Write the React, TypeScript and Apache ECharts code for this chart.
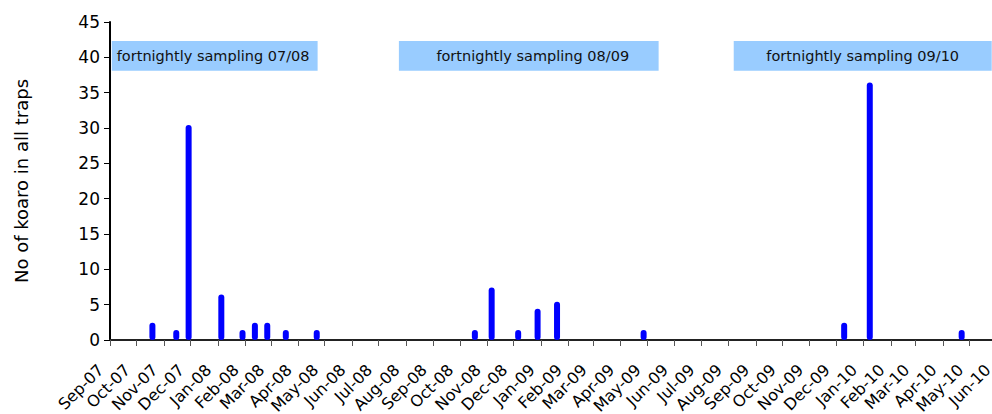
import React, { useEffect, useRef } from 'react';
import * as echarts from 'echarts';

const monthLabels = [
  'Sep-07', 'Oct-07', 'Nov-07', 'Dec-07', 'Jan-08', 'Feb-08', 'Mar-08', 'Apr-08', 'May-08',
  'Jun-08', 'Jul-08', 'Aug-08', 'Sep-08', 'Oct-08', 'Nov-08', 'Dec-08', 'Jan-09', 'Feb-09',
  'Mar-09', 'Apr-09', 'May-09', 'Jun-09', 'Jul-09', 'Aug-09', 'Sep-09', 'Oct-09', 'Nov-09',
  'Dec-09', 'Jan-10', 'Feb-10', 'Mar-10', 'Apr-10', 'May-10', 'Jun-10',
];

const sampleDates = [
  '2007-10-19', '2007-11-15', '2007-11-29', '2008-01-05', '2008-01-29', '2008-02-12',
  '2008-02-26', '2008-03-18', '2008-04-22', '2008-10-18', '2008-11-06', '2008-12-06',
  '2008-12-28', '2009-01-19', '2009-04-27', '2009-12-10', '2010-01-08', '2010-04-22',
];
const koaroCounts = [2, 1, 30, 6, 1, 2, 2, 1, 1, 1, 7, 1, 4, 5, 1, 2, 36, 1];

const periodLabels = ['fortnightly sampling 07/08', 'fortnightly sampling 08/09', 'fortnightly sampling 09/10'];
const periodStarts = ['2007-09-03', '2008-07-24', '2009-08-07'];
const periodEnds = ['2008-04-23', '2009-05-14', '2010-05-26'];
const periodLow = 38.1;
const periodHigh = 42.3;

const yTitle = 'No of koaro in all traps';

const MONTHS = ['Jan', 'Feb', 'Mar', 'Apr', 'May', 'Jun', 'Jul', 'Aug', 'Sep', 'Oct', 'Nov', 'Dec'];
const labelToTs = (l: string) => {
  const [m, y] = l.split('-');
  return Date.UTC(2000 + Number(y), MONTHS.indexOf(m), 1);
};
const dateToTs = (d: string) => {
  const [y, m, dd] = d.split('-').map(Number);
  return Date.UTC(y, m - 1, dd);
};

const FONT = 'DejaVu Sans';

export default function App() {
  const ref = useRef<HTMLDivElement>(null);
  useEffect(() => {
    if (!ref.current) return;
    const chart = echarts.init(ref.current, null, { renderer: 'svg' });
    const tickValues = monthLabels.map(labelToTs);
    const tsToLabel = new Map<number, string>();
    monthLabels.forEach((l, i) => tsToLabel.set(tickValues[i], l));

    chart.setOption({
      animation: false,
      backgroundColor: '#ffffff',
      grid: { left: 110, top: 22, right: -5, bottom: 74, containLabel: false, outerBoundsMode: 'none' },
      xAxis: {
        type: 'value',
        min: tickValues[0],
        max: tickValues[tickValues.length - 1],
        splitLine: { show: false },
        axisLine: { show: true, onZero: false, lineStyle: { color: '#222', width: 2 } },
        axisTick: { show: true, length: 6, customValues: tickValues, lineStyle: { color: '#555', width: 1 } },
        axisLabel: {
          show: true,
          customValues: tickValues,
          rotate: 45,
          margin: 18,
          padding: [0, 13, 0, 0],
          fontFamily: FONT,
          fontSize: 16,
          color: '#000',
          formatter: (v: number) => tsToLabel.get(v) ?? '',
        },
      },
      yAxis: {
        type: 'value',
        min: 0,
        max: 45,
        interval: 5,
        splitLine: { show: false },
        axisLine: { show: true, lineStyle: { color: '#000', width: 2 } },
        axisTick: { show: true, length: 6, lineStyle: { color: '#000', width: 1 } },
        axisLabel: { fontFamily: FONT, fontSize: 17, color: '#000', margin: 10 },
        name: yTitle,
        nameLocation: 'middle',
        nameGap: 80,
        nameTextStyle: { fontFamily: FONT, fontSize: 18, color: '#000' },
      },
      series: [
        {
          type: 'custom',
          renderItem: (params: any, api: any) => {
            const top = api.coord([api.value(0), api.value(1)]);
            const base = api.coord([api.value(0), 0]);
            return {
              type: 'line',
              shape: { x1: top[0], y1: base[1] - 3, x2: top[0], y2: top[1] },
              style: { stroke: '#0000ff', lineWidth: 6, lineCap: 'round' },
            };
          },
          encode: { x: 0, y: 1 },
          data: sampleDates.map((d, i) => [dateToTs(d), koaroCounts[i]]),
          z: 3,
          markArea: {
            silent: true,
            itemStyle: { color: '#99ccff' },
            label: {
              show: true,
              position: 'inside',
              color: '#111',
              fontFamily: FONT,
              fontSize: 14.5,
            },
            data: periodLabels.map((name, i) => [
              {
                name,
                xAxis: dateToTs(periodStarts[i]),
                yAxis: periodHigh,
                label: i === 0 ? { position: 'insideLeft', distance: 5 } : i === 1 ? { offset: [4, 0] } : {},
              },
              { xAxis: dateToTs(periodEnds[i]), yAxis: periodLow },
            ]),
          },
        },
      ],
    });
    return () => chart.dispose();
  }, []);
  return (
    <div
      ref={ref}
      style={{ position: 'absolute', left: 0, top: 0, width: 992, height: 414 }}
    />
  );
}
